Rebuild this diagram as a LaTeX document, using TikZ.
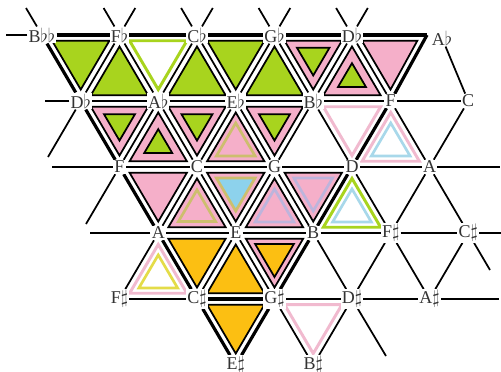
\documentclass[tikz,border=0pt]{standalone}
\usepackage{fontspec}
\setmainfont{Liberation Serif}
\usetikzlibrary{calc,backgrounds}
\definecolor{lime}{HTML}{A8D41E}
\definecolor{rose}{HTML}{F5AFC9}
\definecolor{amber}{HTML}{FCBF12}
\definecolor{sky}{HTML}{8DD2EC}
\definecolor{khaki}{HTML}{CDBE6E}
\definecolor{lilac}{HTML}{BDB4DC}
\definecolor{palerose}{HTML}{F1BACF}
\definecolor{paleblue}{HTML}{A8D8EA}
\definecolor{lemon}{HTML}{E4DC48}
% shrunken copy of a lattice triangle: style, scale, corners
\newcommand\tritile[5]{%
  \coordinate (m) at ($0.3333*(#3)+0.3333*(#4)+0.3333*(#5)$);
  \path[#1] ($(m)!#2!(#3)$) -- ($(m)!#2!(#4)$) -- ($(m)!#2!(#5)$) -- cycle;}

\begin{document}
\begin{tikzpicture}[x=0.75pt,y=-0.75pt,
note/.style={inner sep=0.8pt,fill=white,text=black!80,font=\fontsize{13.5}{14}\selectfont},
edge/.style={line width=1.3pt},heavy/.style={line width=2.4pt},
full/.style={fill=#1,draw=black,line width=1.3pt},
ring/.style={draw=#1,line width=2.2pt,fill=white},
band/.style={draw=#1,line width=2pt}]
\useasboundingbox (0,0) rectangle (501,372);
% notes of the lattice
\foreach \n/\t [count=\k from 0] in {Bbb0/B$\flat\flat$,Fb0/F$\flat$,Cb0/C$\flat$,Gb0/G$\flat$,Db0/D$\flat$}
  \node[note] (\n) at (42+77.5*\k,35) {\t};
\node[note] (Ab0) at (442,38) {A$\flat$};
\coordinate (Ab0p) at (427,35);
\foreach \n/\t [count=\k from 0] in {Db1/D$\flat$,Ab1/A$\flat$,Eb1/E$\flat$,Bb1/B$\flat$,F1/F,C1/C}
  \node[note] (\n) at (80.75+77.5*\k,101) {\t};
\foreach \n/\t [count=\k from 0] in {F2/F,C2/C,G2/G,D2/D,A2/A}
  \node[note] (\n) at (119.5+77.5*\k,167) {\t};
\foreach \n/\t [count=\k from 0] in {A3/A,E3/E,B3/B,Fs3/F$\sharp$,Cs3/C$\sharp$}
  \node[note] (\n) at (158.25+77.5*\k,233) {\t};
\foreach \n/\t [count=\k from 0] in {Fs4/F$\sharp$,Cs4/C$\sharp$,Gs4/G$\sharp$,Ds4/D$\sharp$,As4/A$\sharp$}
  \node[note] (\n) at (119.5+77.5*\k,299) {\t};
\foreach \n/\t [count=\k from 0] in {Es5/E$\sharp$,Bs5/B$\sharp$}
  \node[note] (\n) at (235.75+77.5*\k,365) {\t};

\begin{pgfonlayer}{background}
% lattice lines
\foreach \a/\b in {Db1/Ab1,Ab1/Eb1,Eb1/Bb1,Bb1/F1,F1/C1,F2/C2,C2/G2,G2/D2,D2/A2,
  A3/E3,E3/B3,B3/Fs3,Fs3/Cs3,Fs4/Cs4,Gs4/Ds4,Ds4/As4,
  Fb0/Db1,Fb0/Ab1,Cb0/Ab1,Cb0/Eb1,Gb0/Eb1,Gb0/Bb1,Db0/Bb1,Db0/F1,Ab0/C1,
  Ab1/F2,Ab1/C2,Eb1/C2,Eb1/G2,Bb1/G2,Bb1/D2,F1/A2,C1/A2,
  C2/A3,C2/E3,G2/E3,G2/B3,D2/Fs3,A2/Fs3,A2/Cs3,
  A3/Fs4,E3/Cs4,E3/Gs4,B3/Ds4,Fs3/Ds4,Fs3/As4,Cs3/As4,Gs4/Bs5,Ds4/Bs5}
  \draw[edge] (\a) -- (\b);
\foreach \a/\b in {Bbb0/Fb0,Fb0/Cb0,Cb0/Gb0,Gb0/Db0,Db0/Ab0p,Ab0p/F1,F1/D2,D2/B3,B3/Gs4,
  Gs4/Es5,Es5/Cs4,Cs4/A3,A3/F2,F2/Db1,Db1/Bbb0,Cs4/Gs4}
  \draw[heavy] (\a) -- (\b);
% loose ends
\foreach \a/\x/\y [count=\i] in {Bbb0/6/35,Bbb0/26/8,Fb0/103.6/8,Fb0/135.3/8,Cb0/181.1/8,Cb0/212.8/8,
  Gb0/258.6/8,Gb0/290.3/8,Db0/336.1/8,Db0/367.8/8,Db1/45/101,Db1/48/157,F2/52/167,F2/86/224,
  A3/90/233,A2/500/167,Cs3/501/233,Cs3/490/270,As4/499/299,Ds4/386/356}
  {\coordinate (stub\i) at (\x,\y); \draw[edge] (\a) -- (stub\i);}
% triangles
\tritile{full=lime}{.74}{Bbb0}{Fb0}{Db1}
\tritile{full=lime}{.74}{Fb0}{Db1}{Ab1}
\tritile{ring=lime}{.74}{Fb0}{Cb0}{Ab1}
\tritile{full=lime}{.74}{Cb0}{Ab1}{Eb1}
\tritile{full=lime}{.74}{Cb0}{Gb0}{Eb1}
\tritile{full=lime}{.74}{Gb0}{Eb1}{Bb1}
\tritile{full=rose}{.74}{Gb0}{Db0}{Bb1}\tritile{full=lime}{.42}{Gb0}{Db0}{Bb1}
\tritile{full=rose}{.74}{Db0}{Bb1}{F1}\tritile{full=lime}{.36}{Db0}{Bb1}{F1}
\tritile{full=rose}{.74}{Db0}{Ab0p}{F1}
\tritile{ring=palerose}{.74}{Bb1}{F1}{D2}
\tritile{ring=palerose}{.74}{F1}{D2}{A2}\tritile{band=paleblue}{.5}{F1}{D2}{A2}
\tritile{full=rose}{.74}{Db1}{Ab1}{F2}\tritile{full=lime}{.4}{Db1}{Ab1}{F2}
\tritile{full=rose}{.74}{Ab1}{F2}{C2}\tritile{full=lime}{.36}{Ab1}{F2}{C2}
\tritile{full=rose}{.74}{Ab1}{Eb1}{C2}\tritile{full=lime}{.4}{Ab1}{Eb1}{C2}
\tritile{full=rose}{.74}{Eb1}{C2}{G2}\tritile{band=khaki}{.5}{Eb1}{C2}{G2}
\tritile{full=rose}{.74}{Eb1}{Bb1}{G2}\tritile{full=lime}{.4}{Eb1}{Bb1}{G2}
\tritile{full=rose}{.74}{F2}{C2}{A3}
\tritile{full=rose}{.74}{C2}{A3}{E3}\tritile{band=khaki}{.48}{C2}{A3}{E3}
\tritile{full=rose}{.74}{C2}{G2}{E3}\tritile{band=khaki,fill=sky}{.5}{C2}{G2}{E3}
\tritile{full=rose}{.74}{G2}{E3}{B3}\tritile{band=lilac}{.5}{G2}{E3}{B3}
\tritile{full=rose}{.74}{G2}{D2}{B3}\tritile{band=lilac}{.5}{G2}{D2}{B3}
\tritile{ring=lime}{.74}{D2}{B3}{Fs3}\tritile{band=paleblue}{.5}{D2}{B3}{Fs3}
\tritile{ring=palerose}{.74}{A3}{Fs4}{Cs4}\tritile{band=lemon}{.5}{A3}{Fs4}{Cs4}
\tritile{full=amber}{.74}{A3}{E3}{Cs4}
\tritile{full=amber}{.74}{E3}{Cs4}{Gs4}
\tritile{full=rose}{.74}{E3}{B3}{Gs4}\tritile{full=amber}{.5}{E3}{B3}{Gs4}
\tritile{full=amber}{.74}{Cs4}{Gs4}{Es5}
\tritile{ring=palerose}{.74}{Gs4}{Ds4}{Bs5}
\end{pgfonlayer}
\end{tikzpicture}
\end{document}
